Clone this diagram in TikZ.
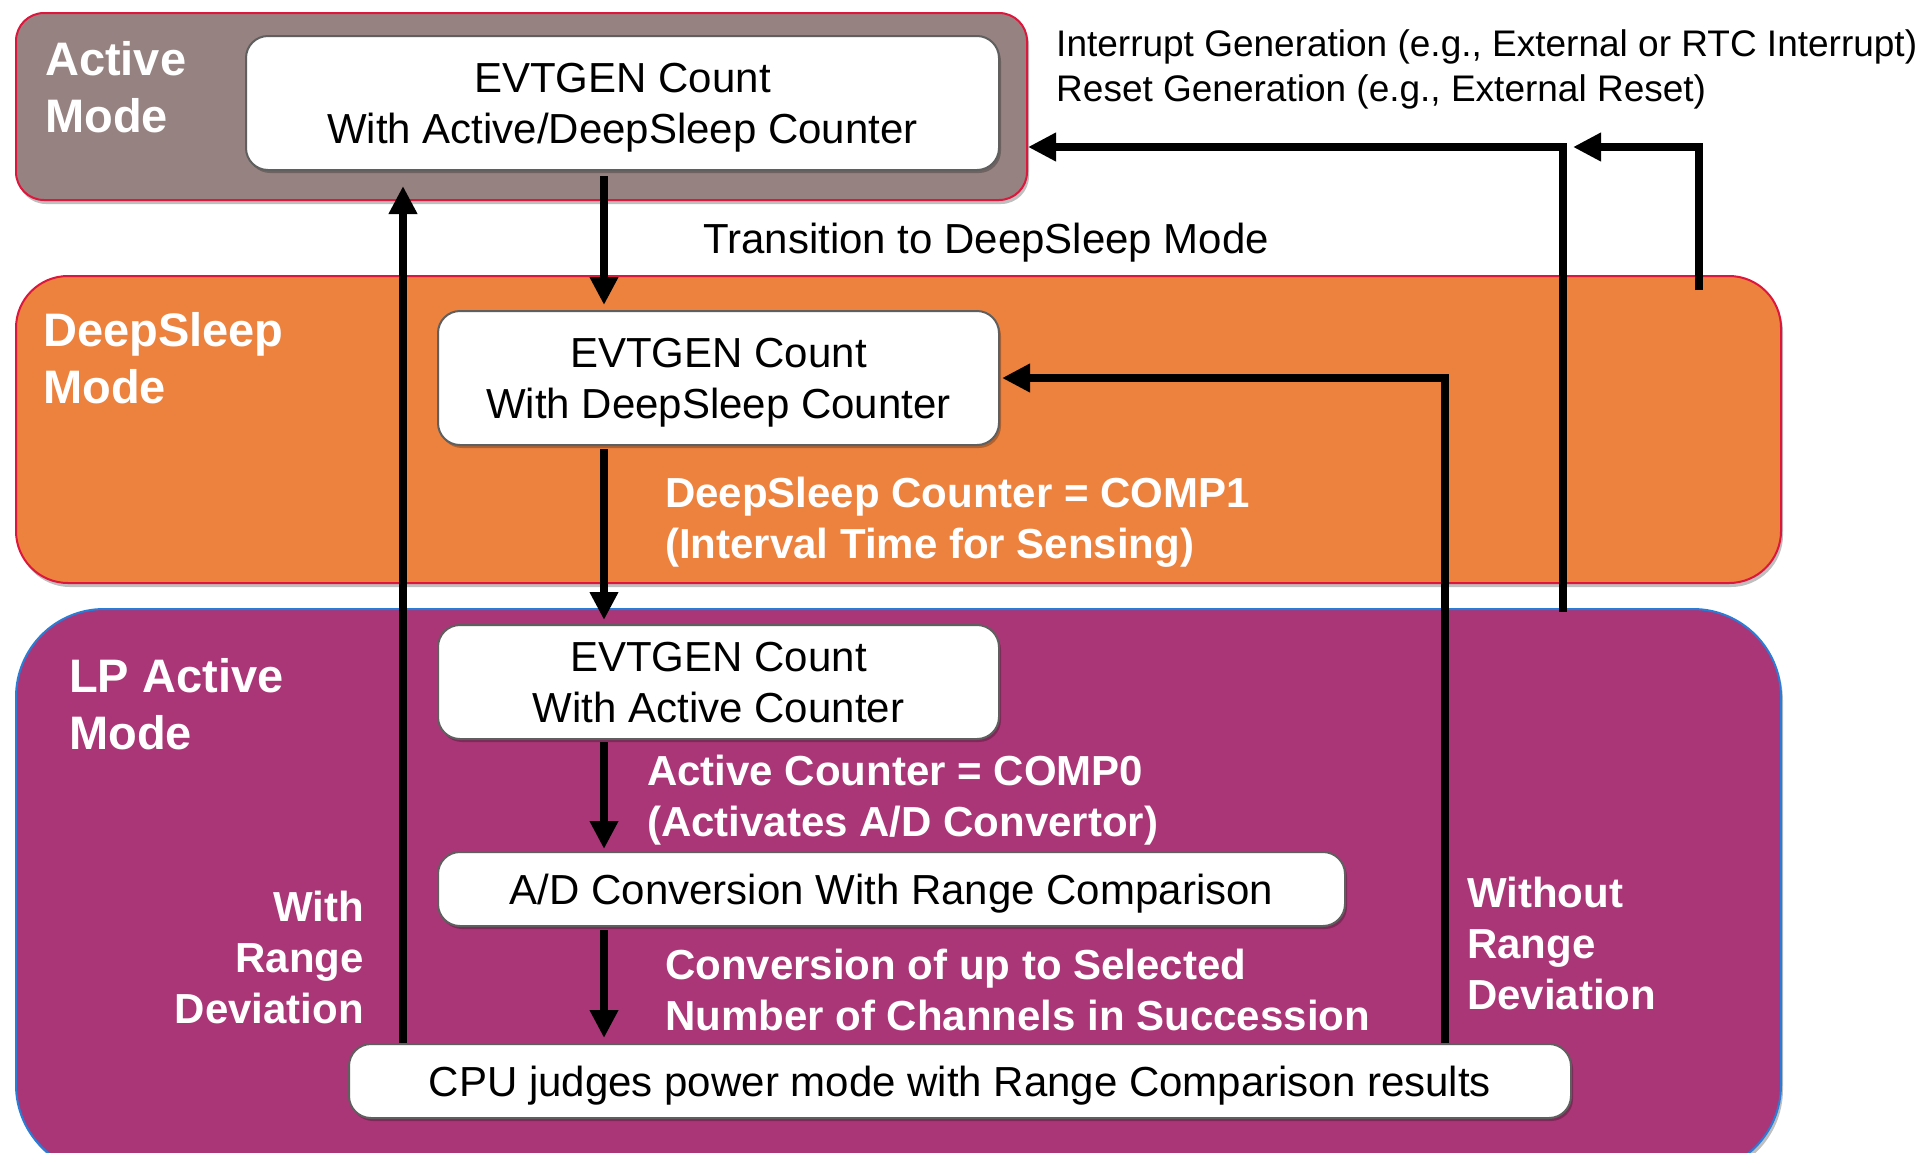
\documentclass[tikz,border=0pt]{standalone}
\usepackage{fontspec}
\setmainfont{Liberation Sans}
\usetikzlibrary{arrows.meta,shadows}
\definecolor{actgray}{RGB}{150,131,129}
\definecolor{dsorange}{RGB}{237,130,62}
\definecolor{lpmag}{RGB}{171,54,119}
\definecolor{redline}{RGB}{222,22,60}
\definecolor{blueline}{RGB}{40,125,215}
\definecolor{nodeline}{RGB}{95,95,95}
\begin{document}
\begin{tikzpicture}[x=1pt,y=-1pt,
  modebox/.style={draw, line width=2pt, anchor=north west, inner sep=0pt,
    drop shadow={shadow xshift=2pt,shadow yshift=-4pt,opacity=0.25,fill=black}},
  stepnode/.style={draw=nodeline, line width=2pt, fill=white, rounded corners=22pt,
    inner sep=0pt, align=center, text depth=0pt, font=\fontsize{42}{51}\selectfont,
    drop shadow={shadow xshift=2pt,shadow yshift=-3pt,opacity=0.25,fill=black}},
  modelabel/.style={text=white, inner sep=0pt, text depth=0pt, anchor=south west,
    align=left, font=\fontsize{47}{57}\selectfont\bfseries},
  whitelabel/.style={text=white, inner sep=0pt, text depth=0pt, anchor=south west,
    align=left, font=\fontsize{42}{51}\selectfont\bfseries},
  blacklabel/.style={text=black, inner sep=0pt, text depth=0pt, anchor=south west,
    align=left, font=\fontsize{42}{51}\selectfont},
  arr/.style={line width=8pt, -{Triangle[length=28pt,width=27pt]}}
]
\useasboundingbox (0,0) rectangle (1926,1152);
\fill[white] (0,0) rectangle (1926,1152);

% mode boxes
\node[modebox, draw=redline, fill=actgray, rounded corners=28pt,
  minimum width=1011pt, minimum height=187pt] (abox) at (15,12) {};
\node[modebox, draw=redline, fill=dsorange, rounded corners=52pt,
  minimum width=1765pt, minimum height=307pt] (dsbox) at (15,275) {};
\node[modebox, draw=blueline, fill=lpmag, rounded corners=88pt,
  minimum width=1765pt, minimum height=564pt] (lpbox) at (15,608) {};

% mode labels
\node[modelabel] (lab1) at (45,133) {Active\\Mode};
\node[modelabel] (lab2) at (43,404) {DeepSleep\\Mode};
\node[modelabel] (lab3) at (69,750) {LP Active\\Mode};

% step nodes
\node[stepnode, minimum width=753pt, minimum height=134pt] (ainner) at (622.5,103)
  {EVTGEN Count\\With Active/DeepSleep Counter};
\node[stepnode, minimum width=561pt, minimum height=134pt] (dsinner) at (718.5,378)
  {EVTGEN Count\\With DeepSleep Counter};
\node[stepnode, minimum width=561pt, minimum height=114pt] (lpinner) at (718.5,682)
  {EVTGEN Count\\With Active Counter};
\node[stepnode, minimum width=907pt, minimum height=74pt] (adnode) at (891.5,889)
  {A/D Conversion With Range Comparison};
\node[stepnode, minimum width=1222pt, minimum height=74pt] (cpu) at (960,1081)
  {CPU judges power mode with Range Comparison results};

% helper coordinates
\coordinate (xa) at (604,0);
\coordinate (xw) at (403,0);
\coordinate (xo) at (1445,0);
\coordinate (j1) at (1563,147);
\coordinate (j2) at (1699,147);

% arrows
\draw[arr, shorten <=5pt, shorten >=5pt] (ainner.south -| xa) -- (dsinner.north -| xa);
\draw[arr, shorten <=3pt, shorten >=4pt] (dsinner.south -| xa) -- (lpinner.north -| xa);
\draw[arr, shorten <=2pt, shorten >=2pt] (lpinner.south -| xa) -- (adnode.north -| xa);
\draw[arr, shorten <=3pt, shorten >=5pt] (adnode.south -| xa) -- (cpu.north -| xa);
\draw[arr, shorten >=15pt] (cpu.north -| xw) -- (ainner.south -| xw);
\draw[arr, shorten >=2pt] (cpu.north -| xo) |- (dsinner.east);
\draw[arr, shorten <=-4pt] (lpbox.north -| j1) -- (j1) -- (abox.east |- j1);
\draw[arr, shorten <=-15pt, shorten >=10pt] (dsbox.north -| j2) -- (j2) -- (j1);

% labels
\node[blacklabel] (trans) at (703,254) {Transition to DeepSleep Mode};
\node[blacklabel, font=\fontsize{37}{45}\selectfont] (intr) at (1056,102)
  {Interrupt Generation (e.g., External or RTC Interrupt)\\Reset Generation (e.g., External Reset)};
\node[whitelabel] (t1) at (665,559) {DeepSleep Counter = COMP1\\(Interval Time for Sensing)};
\node[whitelabel] (t2) at (647,837) {Active Counter = COMP0\\(Activates A/D Convertor)};
\node[whitelabel] (t3) at (665,1031) {Conversion of up to Selected\\Number of Channels in Succession};
\node[whitelabel, anchor=south east, align=right] (t4) at (364,1024) {With\\Range\\Deviation};
\node[whitelabel] (t5) at (1467,1010) {Without\\Range\\Deviation};
\end{tikzpicture}
\end{document}
